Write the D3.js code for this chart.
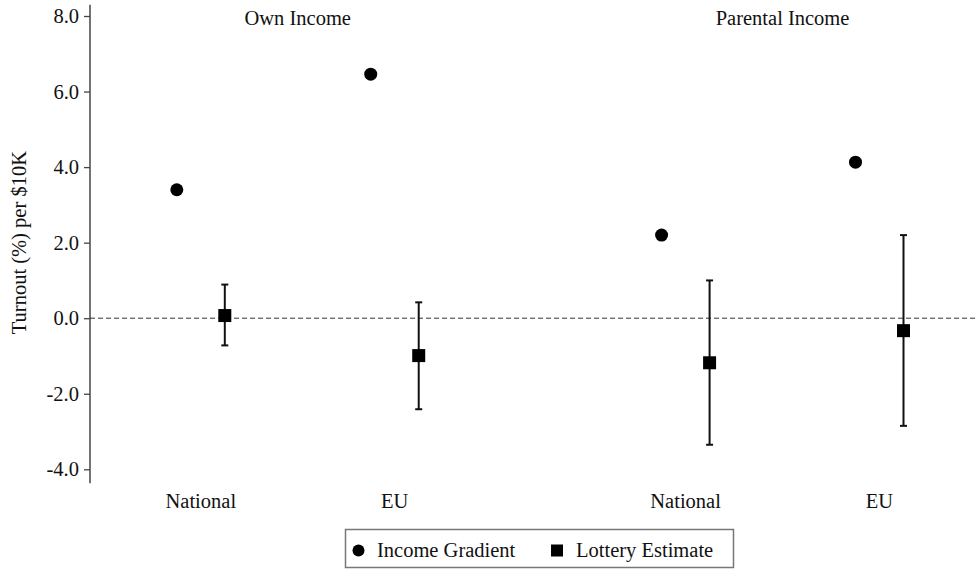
<!DOCTYPE html>
<html>
<head>
<meta charset="utf-8">
<script src="https://cdn.jsdelivr.net/npm/d3@7"></script>
<style>
  html, body { margin: 0; padding: 0; background: #fff; }
  svg { display: block; }
</style>
</head>
<body>
<svg id="chart" width="975" height="570"></svg>
<script>
// Panels and the outcomes within each panel
const panels = ["Own Income", "Parental Income"];
const outcomes = ["National", "EU"];
// Slot of each outcome along the x axis (panel, outcome, position)
const slots = [
  { panel: "Own Income", outcome: "National", pos: 0 },
  { panel: "Own Income", outcome: "EU", pos: 1 },
  { panel: "Parental Income", outcome: "National", pos: 2.5 },
  { panel: "Parental Income", outcome: "EU", pos: 3.5 }
];
// Cross-sectional income gradient (turnout % per $10K)
const gradient = [3.40, 6.46, 2.20, 4.13];
// Lottery estimates with 95% confidence bounds
const lottery = [0.07, -0.99, -1.18, -0.33];
const lotteryLow = [-0.72, -2.41, -3.35, -2.85];
const lotteryHigh = [0.89, 0.42, 1.00, 2.20];
const yTicks = [-4, -2, 0, 2, 4, 6, 8];
const yLabel = "Turnout (%) per $10K";
const legendItems = ["Income Gradient", "Lottery Estimate"];

const FONT = "'Liberation Serif', 'Times New Roman', serif";
const FS = 20.5;
const INK = "#111";

const svg = d3.select("#chart");
const axisX = 90;

const y = d3.scaleLinear().domain([-4, 8]).range([469.3, 16]);
const x = d3.scaleLinear().domain([0, 3.5]).range([200.8, 879.5]);
const shift = 24;

// y axis
const yAxis = d3.axisLeft(y)
  .tickValues(yTicks)
  .tickFormat(d => d.toFixed(1))
  .tickSize(6)
  .tickPadding(5)
  .tickSizeOuter(0);
const gy = svg.append("g")
  .attr("transform", `translate(${axisX},0)`)
  .call(yAxis)
  .attr("font-family", FONT)
  .attr("font-size", FS);
gy.select(".domain").remove();
gy.selectAll(".tick line").attr("stroke", "#444").attr("stroke-width", 1.3);
gy.selectAll(".tick text").attr("fill", INK);
svg.append("line")
  .attr("x1", axisX).attr("x2", axisX)
  .attr("y1", y(8.3)).attr("y2", y(-4.37))
  .attr("stroke", "#444").attr("stroke-width", 1.5);

// y axis title
svg.append("text")
  .attr("transform", `translate(26,${y(2)}) rotate(-90)`)
  .attr("text-anchor", "middle")
  .attr("font-family", FONT).attr("font-size", FS).attr("fill", INK)
  .text(yLabel);

// zero reference line
svg.append("line")
  .attr("x1", axisX).attr("x2", 975)
  .attr("y1", y(0)).attr("y2", y(0))
  .attr("stroke", "#333").attr("stroke-width", 1)
  .attr("stroke-dasharray", "5,3");

// panel titles
panels.forEach(p => {
  const ps = slots.filter(s => s.panel === p).map(s => x(s.pos));
  svg.append("text")
    .attr("x", d3.mean(ps)).attr("y", 25)
    .attr("text-anchor", "middle")
    .attr("font-family", FONT).attr("font-size", FS).attr("fill", INK)
    .text(p);
});

// outcome labels under each slot
svg.selectAll("text.cat")
  .data(slots)
  .join("text")
  .attr("class", "cat")
  .attr("x", d => x(d.pos)).attr("y", 508)
  .attr("text-anchor", "middle")
  .attr("font-family", FONT).attr("font-size", FS).attr("fill", INK)
  .text(d => d.outcome);

// income gradient points
svg.selectAll("circle.grad")
  .data(slots)
  .join("circle")
  .attr("class", "grad")
  .attr("cx", d => x(d.pos) - shift)
  .attr("cy", (d, i) => y(gradient[i]))
  .attr("r", 6.5)
  .attr("fill", "#000");

// lottery error bars
const eb = svg.selectAll("g.eb").data(slots).join("g").attr("class", "eb");
eb.append("line")
  .attr("x1", d => x(d.pos) + shift).attr("x2", d => x(d.pos) + shift)
  .attr("y1", (d, i) => y(lotteryHigh[i])).attr("y2", (d, i) => y(lotteryLow[i]))
  .attr("stroke", "#111").attr("stroke-width", 2);
eb.append("line")
  .attr("x1", d => x(d.pos) + shift - 3.5).attr("x2", d => x(d.pos) + shift + 3.5)
  .attr("y1", (d, i) => y(lotteryHigh[i])).attr("y2", (d, i) => y(lotteryHigh[i]))
  .attr("stroke", "#111").attr("stroke-width", 2);
eb.append("line")
  .attr("x1", d => x(d.pos) + shift - 3.5).attr("x2", d => x(d.pos) + shift + 3.5)
  .attr("y1", (d, i) => y(lotteryLow[i])).attr("y2", (d, i) => y(lotteryLow[i]))
  .attr("stroke", "#111").attr("stroke-width", 2);

// lottery point estimates
const sq = 13;
svg.selectAll("rect.lot")
  .data(slots)
  .join("rect")
  .attr("class", "lot")
  .attr("x", d => x(d.pos) + shift - sq / 2)
  .attr("y", (d, i) => y(lottery[i]) - sq / 2)
  .attr("width", sq).attr("height", sq)
  .attr("fill", "#000");

// legend
const lg = svg.append("g").attr("font-family", FONT).attr("font-size", FS).attr("fill", INK);
lg.append("rect")
  .attr("x", 345.5).attr("y", 529.5)
  .attr("width", 388).attr("height", 38)
  .attr("fill", "#fff").attr("stroke", "#777").attr("stroke-width", 1.5);
lg.append("circle").attr("cx", 358.5).attr("cy", 550.5).attr("r", 6).attr("fill", "#000");
lg.append("text").attr("x", 377).attr("y", 557).text(legendItems[0]);
lg.append("rect").attr("x", 551).attr("y", 544.5).attr("width", 12).attr("height", 12).attr("fill", "#000");
lg.append("text").attr("x", 576).attr("y", 557).text(legendItems[1]);
</script>
</body>
</html>
